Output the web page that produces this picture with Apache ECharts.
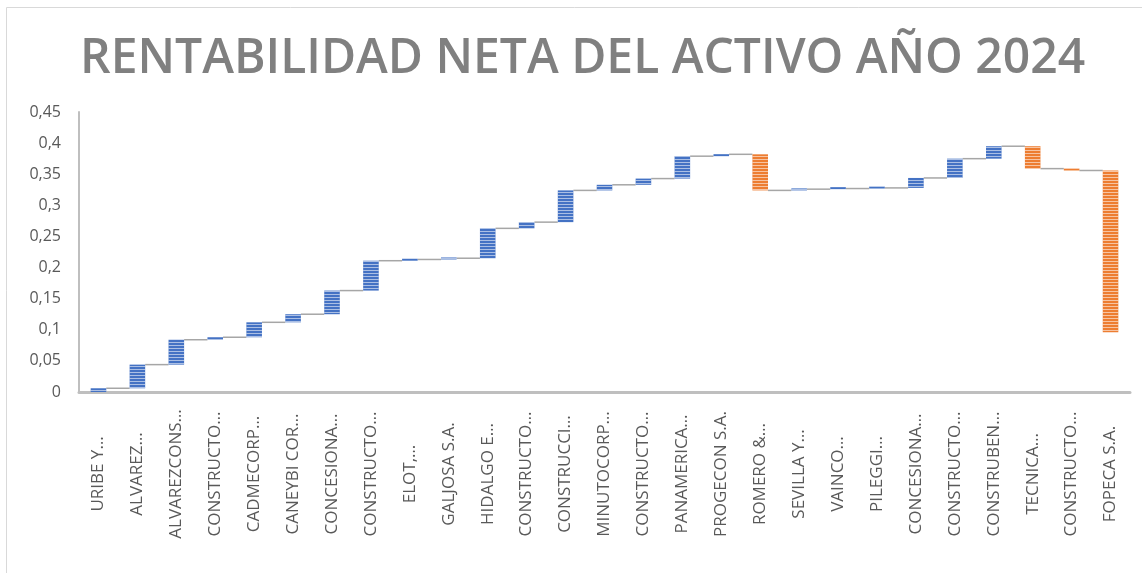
<!DOCTYPE html>
<html>
<head>
<meta charset="utf-8">
<script src="https://cdn.jsdelivr.net/npm/echarts@6/dist/echarts.min.js"></script>
<style>
  html, body { margin: 0; padding: 0; background: #fff; }
  #chart { width: 1142px; height: 573px; }
</style>
</head>
<body>
<div id="chart"></div>
<script>
var chartTitle = 'RENTABILIDAD NETA DEL ACTIVO AÑO 2024';

var companies = [
  'URIBE Y…', 'ALVAREZ…', 'ALVAREZCONS…', 'CONSTRUCTO…', 'CADMECORP…',
  'CANEYBI COR…', 'CONCESIONA…', 'CONSTRUCTO…', 'ELOT,…', 'GALJOSA S.A.',
  'HIDALGO E…', 'CONSTRUCTO…', 'CONSTRUCCI…', 'MINUTOCORP…', 'CONSTRUCTO…',
  'PANAMERICA…', 'PROGECON S.A.', 'ROMERO &…', 'SEVILLA Y…', 'VAINCO…',
  'PILEGGI…', 'CONCESIONA…', 'CONSTRUCTO…', 'CONSTRUBEN…', 'TECNICA…',
  'CONSTRUCTO…', 'FOPECA S.A.'
];

// change of each company (waterfall step)
var changes = [
  0.006, 0.038, 0.040, 0.004, 0.024,
  0.013, 0.038, 0.048, 0.002, 0.002,
  0.048, 0.010, 0.051, 0.009, 0.010,
  0.036, 0.003, -0.058, 0.002, 0.001,
  0.001, 0.016, 0.031, 0.020, -0.036,
  -0.003, -0.260
];

var yTicks = { min: 0, max: 0.45, step: 0.05 };

// build waterfall pieces
var base = [], up = [], down = [], ends = [];
var level = 0;
changes.forEach(function (d) {
  var next = level + d;
  base.push(Math.min(level, next));
  up.push(d > 0 ? d : '-');
  down.push(d < 0 ? -d : '-');
  ends.push(next);
  level = next;
});

var connectors = [];
for (var i = 0; i < ends.length - 1; i++) {
  connectors.push([i, ends[i]]);
}

function stripes(col) {
  return {
    color: col,
    decal: {
      symbol: 'rect',
      symbolSize: 1,
      color: 'rgba(255,255,255,0.55)',
      dashArrayX: [1, 0],
      dashArrayY: [1, 2],
      rotation: 0
    }
  };
}

var myChart = echarts.init(document.getElementById('chart'));

myChart.setOption({
  animation: false,
  title: {
    text: chartTitle,
    left: 75,
    top: 30,
    textStyle: {
      fontFamily: 'Open Sans',
      fontSize: 48,
      fontWeight: 600,
      color: '#808080'
    }
  },
  graphic: [{
    type: 'rect',
    shape: { x: 6.5, y: 7.5, width: 1140, height: 570 },
    style: { fill: 'none', stroke: '#d9d9d9', lineWidth: 1 },
    silent: true
  }],
  grid: { left: 79, right: 12, top: 112, bottom: 181 },
  xAxis: {
    type: 'category',
    data: companies,
    axisLine: { lineStyle: { color: '#bfbfbf', width: 3 } },
    axisTick: { show: false },
    axisLabel: {
      interval: 0,
      rotate: 90,
      align: 'center',
      verticalAlign: 'middle',
      margin: 82,
      fontFamily: 'Open Sans',
      fontSize: 17,
      color: '#595959'
    }
  },
  yAxis: {
    type: 'value',
    min: yTicks.min,
    max: yTicks.max,
    interval: yTicks.step,
    axisLine: { show: true, lineStyle: { color: '#bfbfbf', width: 2 } },
    axisTick: { show: false },
    splitLine: { show: false },
    axisLabel: {
      margin: 18,
      fontFamily: 'Open Sans',
      fontSize: 16,
      color: '#595959',
      formatter: function (v) {
        return String(+v.toFixed(2)).replace('.', ',');
      }
    }
  },
  series: [
    {
      type: 'bar',
      stack: 'wf',
      data: base,
      barWidth: '40%',
      itemStyle: { color: 'transparent' },
      silent: true
    },
    {
      type: 'bar',
      stack: 'wf',
      data: up,
      barMinHeight: 2,
      itemStyle: stripes('#4472c4')
    },
    {
      type: 'bar',
      stack: 'wf',
      data: down,
      barMinHeight: 2,
      itemStyle: stripes('#ed7d31')
    },
    {
      type: 'custom',
      data: connectors,
      z: 1,
      renderItem: function (params, api) {
        var p = api.coord([api.value(0), api.value(1)]);
        var q = api.coord([api.value(0) + 1, api.value(1)]);
        var half = api.size([1, 0])[0] * 0.2;
        return {
          type: 'line',
          shape: { x1: p[0] + half, y1: p[1], x2: q[0] - half, y2: q[1] },
          style: { stroke: '#a6a6a6', lineWidth: 1.5 }
        };
      }
    }
  ]
});
</script>
</body>
</html>
